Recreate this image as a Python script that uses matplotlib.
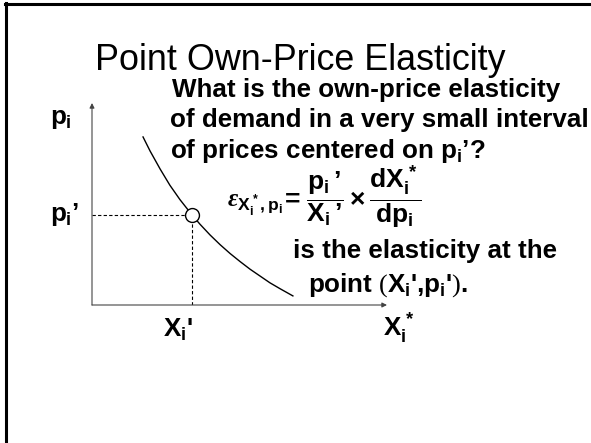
import matplotlib
matplotlib.use("Agg")
from matplotlib import pyplot as plt
from matplotlib.lines import Line2D

plt.rcParams["font.family"] = ["Liberation Sans", "DejaVu Sans"]
plt.rcParams["mathtext.fontset"] = "custom"
plt.rcParams["mathtext.rm"] = "Liberation Sans:bold"
plt.rcParams["mathtext.it"] = "Liberation Sans:bold"
plt.rcParams["mathtext.bf"] = "Liberation Sans:bold"
plt.rcParams["mathtext.cal"] = "Liberation Serif:bold:italic"
plt.rcParams["mathtext.sf"] = "Liberation Serif"

# demand curve X_i*(p_i) in diagram units (x = quantity, y = price)
demand_x = [1.73, 1.97, 2.31, 2.64, 2.98, 3.39, 3.66, 4.00, 4.34, 4.68,
            5.02, 5.36, 5.70, 6.03, 6.37, 6.81]
demand_p = [8.32, 7.62, 6.73, 5.93, 5.22, 4.46, 4.00, 3.47, 2.99, 2.55,
            2.15, 1.77, 1.43, 1.10, 0.81, 0.45]
# the point (X_i', p_i')
point_x = 3.39
point_p = 4.46

W, H = 591, 443
fig = plt.figure(figsize=(W / 100, H / 100), dpi=100)

# page layer in pixel units, used for the slide frame and text
bg = fig.add_axes([0, 0, 1, 1])
bg.set_xlim(0, W)
bg.set_ylim(H, 0)
bg.axis("off")
bg.add_line(Line2D([6, 6], [3, H], color="black", lw=2.2))
bg.add_line(Line2D([5, W], [4, 4], color="black", lw=2.2))

bg.text(95, 70, "Point Own-Price Elasticity", fontsize=25.8, ha="left", va="baseline")

body = dict(fontsize=18.7, fontweight="bold", ha="left", va="baseline")
bg.text(172, 97, "What is the own-price elasticity", **body)
bg.text(170, 127, "of demand in a very small interval", **body)
bg.text(170, 158, "of prices centered on $p_i$\u2019?", **body)
bg.text(227, 207, r"$\mathcal{\varepsilon}_{X_i^*,p_i}$", fontsize=18, ha="left", va="baseline")
bg.text(284, 208,
        r"= $\dfrac{p_i\,'}{X_i\,'}\times\dfrac{dX_i^*}{dp_i}$".replace("'", "\u2019"),
        fontsize=19, fontweight="bold", ha="left", va="baseline")
bg.text(293, 258, "is the elasticity at the", **body)
bg.text(308, 292, "point $\\mathsf{(}X_i$',$p_i$'$\\mathsf{)}$.", **body)

# axis labels
bg.text(50, 124, "$p_i$", **body)
bg.text(50, 221, "$p_i$\u2019", **body)
bg.text(163, 337, "$X_i$'", **body)
bg.text(383, 337, "$X_i^*$", **body)

# diagram
ax = fig.add_axes([92 / W, (H - 305) / H, (387 - 92) / W, (305 - 103) / H])
ax.set_xlim(0, 10)
ax.set_ylim(0, 10)
ax.axis("off")

arrow = dict(arrowstyle="-|>", lw=0.8, color="#444444", mutation_scale=7, shrinkA=0, shrinkB=0)
ax.annotate("", xy=(10, 0), xytext=(0, 0), arrowprops=arrow, annotation_clip=False)
ax.annotate("", xy=(0, 10), xytext=(0, 0), arrowprops=arrow, annotation_clip=False)

ax.plot(demand_x, demand_p, color="black", lw=1.0, clip_on=False)
ax.plot([0, point_x], [point_p, point_p], color="black", lw=0.8, ls=(0, (3, 2)))
ax.plot([point_x, point_x], [0, point_p], color="black", lw=0.8, ls=(0, (3, 2)))
ax.plot(point_x, point_p, "o", ms=10, mfc="white", mec="black", mew=1.0, clip_on=False)

fig.savefig("out.png", dpi=100)
